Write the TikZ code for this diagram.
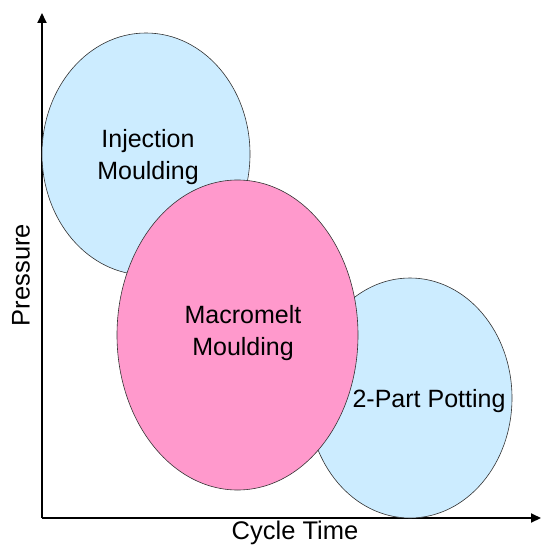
\documentclass[tikz,border=0pt]{standalone}
\usepackage{fontspec}
\setmainfont{Liberation Sans}
\usetikzlibrary{arrows.meta,positioning,shapes.geometric}

\definecolor{paleblue}{RGB}{204,236,255}
\definecolor{rosepink}{RGB}{255,153,204}

\begin{document}
\begin{tikzpicture}[x=1pt, y=-1pt, >=Triangle,
  blob/.style={ellipse, draw=black!80, line width=0.6pt, inner sep=0pt},
  blobtext/.style={align=center, font=\fontsize{25}{32}\selectfont},
  axis/.style={line width=2pt, ->, shorten >=0pt},
  axislabel/.style={font=\fontsize{25.5}{30}\selectfont}]
  \useasboundingbox (0,0) rectangle (542,545);

  % axes
  \coordinate (origin) at (42,518);
  \coordinate (ytip) at (42,13);
  \coordinate (xtip) at (541,518);
  \draw[axis, -{Triangle[length=10pt,width=9pt]}] (origin) -- (ytip);
  \draw[axis, -{Triangle[length=10pt,width=9pt]}] (origin) -- (xtip);
  \node[axislabel] (xlab) at (295,533) {Cycle Time};
  \node[axislabel, rotate=90] (ylab) at (21,275) {Pressure};

  % process regions
  \node[blob, fill=paleblue, minimum width=208pt, minimum height=242pt]
    (inj) at (146,154) {};
  \node[blobtext] (injlab) at (148,157) {Injection\\Moulding};
  \node[blob, fill=paleblue, minimum width=204pt, minimum height=240pt]
    (pot) at (410,398) {};
  \node[blobtext] (potlab) at (429,401) {2-Part Potting};
  \node[blob, fill=rosepink, minimum width=241pt, minimum height=310pt]
    (mac) at (237.5,335) {};
  \node[blobtext] (maclab) at (243,333) {Macromelt\\Moulding};
\end{tikzpicture}
\end{document}
